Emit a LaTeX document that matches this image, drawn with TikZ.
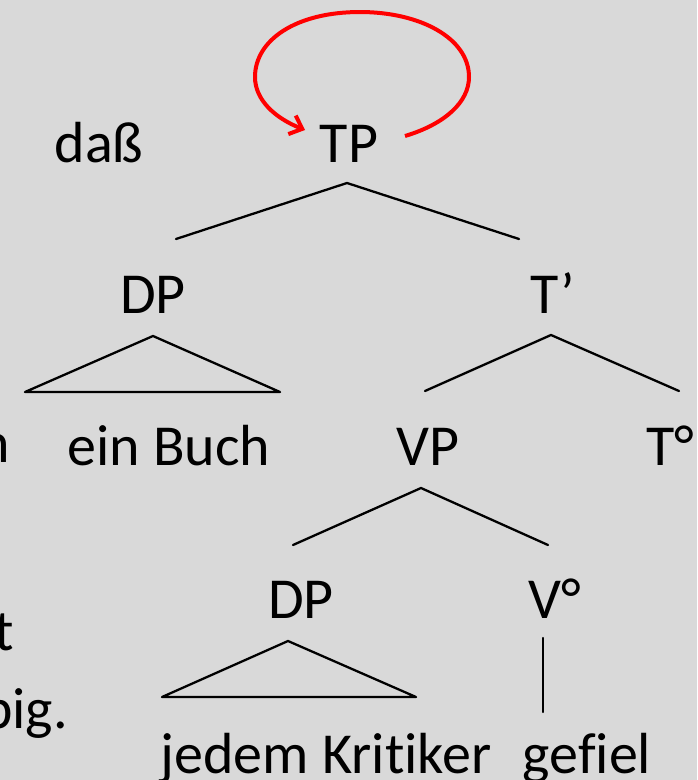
\documentclass[tikz,border=0pt]{standalone}
\usepackage{fontspec}
\setmainfont{Carlito}[Ligatures={NoCommon}]
\usetikzlibrary{arrows.meta}
\definecolor{slidebg}{HTML}{D9D9D9}
\definecolor{loopred}{HTML}{FF0000}
\tikzset{
  lbl/.style={anchor=base, inner sep=0pt, font=\fontsize{58}{70}\selectfont},
  lblr/.style={lbl, anchor=base east},
  branch/.style={draw=black, line width=2.3pt, line cap=round, line join=round},
  movement/.style={draw=loopred, line width=4pt, -{Straight Barb[length=11pt,width=20pt,line width=4pt]}}
}
\begin{document}
\begin{tikzpicture}[x=1pt, y=-1pt]
  % canvas
  \fill[slidebg] (0,0) rectangle (697,780);
  \useasboundingbox (0,0) rectangle (697,780);
  \clip (0,0) rectangle (697,780);

  % words cut off at the left margin
  \node[lblr] (wn) at (10,462) {n};
  \node[lblr] (wt) at (14,650) {t};
  \node[lblr] (wb) at (68,728) {big.};

  % labels
  \node[lbl] (dass) at (99,162) {daß};
  \node[lbl] (TP) at (349,162) {TP};
  \node[lbl] (DP1) at (153,313) {DP};
  \node[lbl] (Tbar) at (553,313) {T’};
  \node[lbl] (buch) at (169,465) {ein Buch};
  \node[lbl] (VP) at (428,465) {VP};
  \node[lbl] (T0) at (670,465) {T°};
  \node[lbl] (DP2) at (301,618) {DP};
  \node[lbl] (V0) at (555,618) {V°};
  \node[lbl] (krit) at (326,773) {jedem Kritiker};
  \node[lbl] (gef) at (587,773) {gefiel};

  % branch end points
  \coordinate (TPb) at (347,183);
  \coordinate (DP1t) at (176,239);
  \coordinate (Tbart) at (519,239);
  \coordinate (DP1b) at (153,336);
  \coordinate (buchL) at (25,392);
  \coordinate (buchR) at (280,392);
  \coordinate (Tbarb) at (551,335);
  \coordinate (VPt) at (425,391);
  \coordinate (T0t) at (679,391);
  \coordinate (VPb) at (421,488);
  \coordinate (DP2t) at (293,545);
  \coordinate (V0t) at (548,545);
  \coordinate (DP2b) at (288,641);
  \coordinate (kritL) at (162,697);
  \coordinate (kritR) at (416,697);
  \coordinate (V0b) at (543,638);
  \coordinate (gefT) at (543,712);

  % tree
  \draw[branch] (DP1t) -- (TPb) -- (Tbart);
  \draw[branch] (DP1b) -- (buchL) -- (buchR) -- cycle;
  \draw[branch] (VPt) -- (Tbarb) -- (T0t);
  \draw[branch] (DP2t) -- (VPb) -- (V0t);
  \draw[branch] (DP2b) -- (kritL) -- (kritR) -- cycle;
  \draw[branch] (V0b) -- (gefT);

  % movement loop over TP
  \coordinate (loopS) at (405,136);
  \coordinate (loopE) at (305,130);
  \draw[movement] (loopS) .. controls (445,124) and (469,102) .. (469,77)
     .. controls (469,38) and (420,12) .. (360,12)
     .. controls (296,12) and (255,40) .. (255,77)
     .. controls (255,100) and (275,118) .. (loopE);
\end{tikzpicture}
\end{document}
